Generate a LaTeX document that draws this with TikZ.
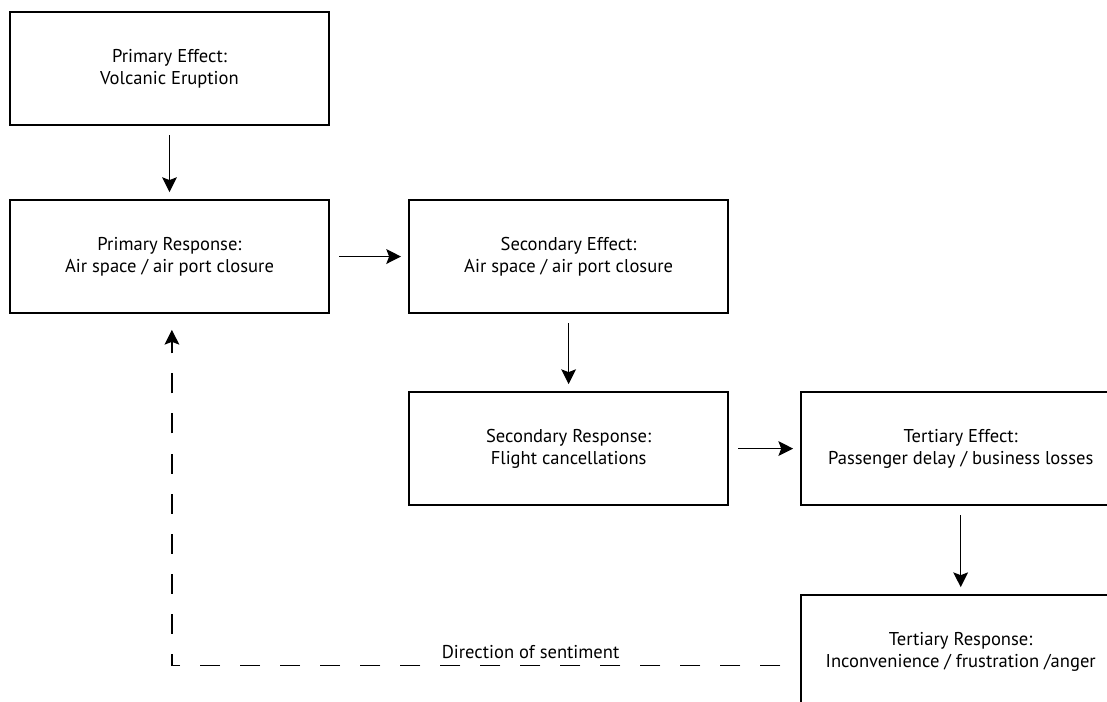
\documentclass[tikz,border=0pt]{standalone}
\usepackage{fontspec}
\setmainfont{PT Sans}
\usetikzlibrary{arrows.meta,positioning}

\begin{document}
\begin{tikzpicture}[
    x=0.025cm, y=-0.025cm,
    % Define styles
    stage/.style={rectangle, draw, line width=1.1pt, outer sep=0pt, minimum width=7.975cm, minimum height=2.825cm,
        align=center, font=\fontsize{13.2}{15.8}\selectfont},
    arrow/.style={-{Stealth[length=10.5pt, width=10.5pt, inset=2pt]}, line width=0.95pt,
        shorten <=0.25cm, shorten >=0.2cm},
    sentiment/.style={dash pattern=on 0.5cm off 0.5cm, line width=0.95pt,
        -{Stealth[length=10.5pt, width=10.5pt, inset=2pt]}}
]

\useasboundingbox (0,0) rectangle (1107,702);
\clip (0,0) rectangle (1107,702);

% Effects and responses
\node[stage] (pe) at (169.5,68.5) {Primary Effect:\\Volcanic Eruption};
\node[stage, below=1.875cm of pe] (pr) {Primary Response:\\Air space / air port closure};
\node[stage, right=2cm of pr] (se) {Secondary Effect:\\Air space / air port closure};
\node[stage, below=1.975cm of se] (sr) {Secondary Response:\\Flight cancellations};
\node[stage, right=1.825cm of sr] (te) {Tertiary Effect:\\Passenger delay / business losses};
\node[stage, below=2.25cm of te] (tr) {Tertiary Response:\\Inconvenience / frustration /anger};

% Connections
\draw[arrow] (pe) -- (pr);
\draw[arrow] (pr) -- (se);
\draw[arrow] (se) -- (sr);
\draw[arrow] (sr) -- (te);
\draw[arrow] (te) -- (tr);

% Feedback
\coordinate (tail) at ([yshift=-0.34cm]tr.west);
\coordinate (corner) at ([xshift=0.06cm]pr.south |- tail);
\draw[sentiment, shorten <=0.52cm, shorten >=0.42cm] (tail) -- (corner)
    node[pos=0.43, above=1pt, font=\fontsize{13.2}{15.8}\selectfont] (dir) {Direction of sentiment}
    -- (pr.south -| corner);

\end{tikzpicture}
\end{document}
